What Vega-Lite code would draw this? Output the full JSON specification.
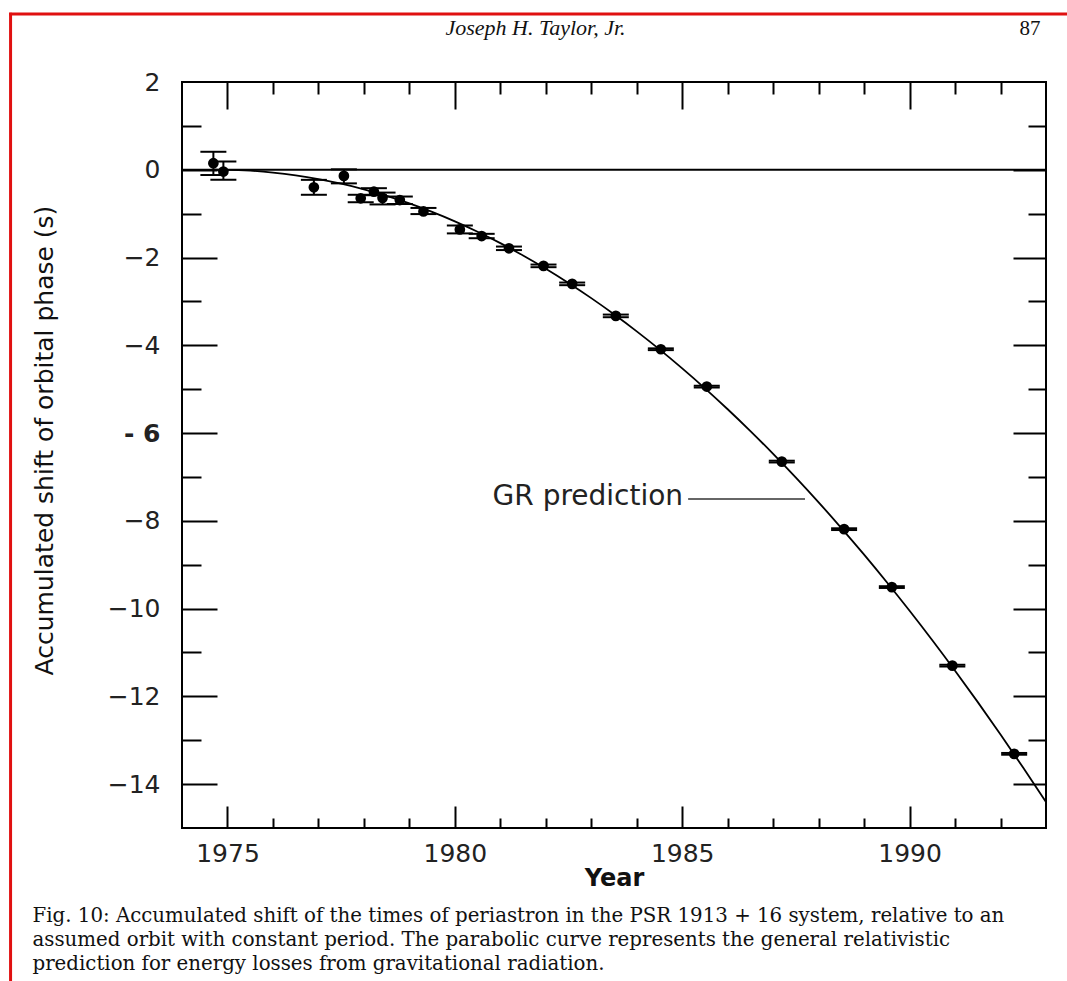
{
  "$schema": "https://vega.github.io/schema/vega-lite/v6.json",
  "autosize": {"type": "none"},
  "width": 864,
  "height": 746,
  "padding": {"left": 182, "top": 82, "right": 21, "bottom": 153},
  "background": "white",
  "config": {
    "view": {"stroke": "black", "strokeWidth": 2},
    "axis": {
      "domain": false,
      "grid": false,
      "tickColor": "black",
      "tickWidth": 2,
      "labelColor": "#222",
      "titleColor": "#111"
    }
  },
  "datasets": {
    "obs": [
      {"year": 1974.69, "shift": 0.15, "lo": -0.12, "hi": 0.41},
      {"year": 1974.91, "shift": -0.04, "lo": -0.23, "hi": 0.19},
      {"year": 1976.90, "shift": -0.40, "lo": -0.57, "hi": -0.23},
      {"year": 1977.56, "shift": -0.14, "lo": -0.31, "hi": 0.01},
      {"year": 1977.93, "shift": -0.65, "lo": -0.74, "hi": -0.57},
      {"year": 1978.22, "shift": -0.50, "lo": -0.58, "hi": -0.42},
      {"year": 1978.41, "shift": -0.64, "lo": -0.79, "hi": -0.52},
      {"year": 1978.79, "shift": -0.69, "lo": -0.78, "hi": -0.61},
      {"year": 1979.31, "shift": -0.95, "lo": -1.01, "hi": -0.87},
      {"year": 1980.11, "shift": -1.36, "lo": -1.45, "hi": -1.27},
      {"year": 1980.59, "shift": -1.51, "lo": -1.56, "hi": -1.46},
      {"year": 1981.19, "shift": -1.79, "lo": -1.83, "hi": -1.75},
      {"year": 1981.95, "shift": -2.19, "lo": -2.22, "hi": -2.16},
      {"year": 1982.58, "shift": -2.60, "lo": -2.63, "hi": -2.57},
      {"year": 1983.54, "shift": -3.33, "lo": -3.36, "hi": -3.30},
      {"year": 1984.53, "shift": -4.09, "lo": -4.11, "hi": -4.07},
      {"year": 1985.54, "shift": -4.94, "lo": -4.96, "hi": -4.92},
      {"year": 1987.19, "shift": -6.65, "lo": -6.67, "hi": -6.63},
      {"year": 1988.56, "shift": -8.19, "lo": -8.21, "hi": -8.17},
      {"year": 1989.61, "shift": -9.51, "lo": -9.53, "hi": -9.49},
      {"year": 1990.94, "shift": -11.30, "lo": -11.32, "hi": -11.28},
      {"year": 1992.30, "shift": -13.31, "lo": -13.33, "hi": -13.29}
    ],
    "gr": [
      {"year": 1974.7, "shift": 0},
      {"year": 1975.0, "shift": -0.002},
      {"year": 1975.5, "shift": -0.021},
      {"year": 1976.0, "shift": -0.063},
      {"year": 1976.5, "shift": -0.126},
      {"year": 1977.0, "shift": -0.211},
      {"year": 1977.5, "shift": -0.317},
      {"year": 1978.0, "shift": -0.445},
      {"year": 1978.5, "shift": -0.596},
      {"year": 1979.0, "shift": -0.767},
      {"year": 1979.5, "shift": -0.961},
      {"year": 1980.0, "shift": -1.176},
      {"year": 1980.5, "shift": -1.413},
      {"year": 1981.0, "shift": -1.672},
      {"year": 1981.5, "shift": -1.953},
      {"year": 1982.0, "shift": -2.255},
      {"year": 1982.5, "shift": -2.579},
      {"year": 1983.0, "shift": -2.925},
      {"year": 1983.5, "shift": -3.293},
      {"year": 1984.0, "shift": -3.682},
      {"year": 1984.5, "shift": -4.093},
      {"year": 1985.0, "shift": -4.526},
      {"year": 1985.5, "shift": -4.980},
      {"year": 1986.0, "shift": -5.457},
      {"year": 1986.5, "shift": -5.955},
      {"year": 1987.0, "shift": -6.475},
      {"year": 1987.5, "shift": -7.016},
      {"year": 1988.0, "shift": -7.579},
      {"year": 1988.5, "shift": -8.165},
      {"year": 1989.0, "shift": -8.771},
      {"year": 1989.5, "shift": -9.400},
      {"year": 1990.0, "shift": -10.050},
      {"year": 1990.5, "shift": -10.722},
      {"year": 1991.0, "shift": -11.416},
      {"year": 1991.5, "shift": -12.132},
      {"year": 1992.0, "shift": -12.869},
      {"year": 1992.5, "shift": -13.628},
      {"year": 1993.0, "shift": -14.409}
    ]
  },
  "resolve": {"axis": {"x": "independent", "y": "independent"}},
  "layer": [
    {
      "data": {"values": [{}]},
      "mark": {"type": "rule", "color": "black", "strokeWidth": 2},
      "encoding": {
        "y": {"datum": 0, "type": "quantitative", "scale": {"domain": [-15, 2], "nice": false, "zero": false}, "axis": null}
      }
    },
    {
      "data": {"name": "gr"},
      "mark": {"type": "line", "color": "black", "strokeWidth": 1.8, "interpolate": "monotone"},
      "encoding": {
        "x": {
          "field": "year", "type": "quantitative",
          "scale": {"domain": [1974, 1993], "nice": false, "zero": false},
          "axis": {
            "orient": "bottom", "values": [1975, 1980, 1985, 1990], "format": "d",
            "ticks": false, "labelFont": "DejaVu Sans", "labelFontSize": 25, "labelPadding": 13,
            "title": "Year", "titleFont": "DejaVu Sans", "titleFontSize": 24, "titleFontWeight": "bold",
            "titleX": 432, "titleY": 57, "titleBaseline": "alphabetic", "titleAlign": "center"
          }
        },
        "y": {
          "field": "shift", "type": "quantitative",
          "scale": {"domain": [-15, 2], "nice": false, "zero": false},
          "axis": {
            "orient": "left", "values": [-14, -12, -10, -8, -6, -4, -2, 0, 2],
            "ticks": false, "labelFont": "DejaVu Sans", "labelFontSize": 25, "labelPadding": 22,
            "labelExpr": "datum.value === -6 ? '-  6' : (datum.value < 0 ? '\u2212' + abs(datum.value) : '' + datum.value)",
            "labelFontWeight": {"condition": {"test": "datum.value === -6", "value": "bold"}, "value": "normal"},
            "title": "Accumulated shift of orbital phase (s)", "titleFont": "DejaVu Sans", "titleFontSize": 25,
            "titleFontWeight": "normal", "titleX": -138, "titleY": 358, "titleAngle": -90,
            "titleBaseline": "middle", "titleAlign": "center"
          }
        }
      }
    },
    {
      "data": {"name": "obs"},
      "mark": {"type": "rule", "color": "black", "strokeWidth": 2},
      "encoding": {
        "x": {
          "field": "year", "type": "quantitative",
          "scale": {"domain": [1974, 1993], "nice": false, "zero": false},
          "axis": {"orient": "bottom", "values": [1975, 1980, 1985, 1990], "labels": false, "tickSize": -22, "title": null}
        },
        "y": {
          "field": "lo", "type": "quantitative",
          "scale": {"domain": [-15, 2], "nice": false, "zero": false},
          "axis": {"orient": "left", "values": [-14, -12, -10, -8, -6, -4, -2, 0], "labels": false, "tickSize": -35, "title": null}
        },
        "y2": {"field": "hi"}
      }
    },
    {
      "data": {"name": "obs"},
      "mark": {"type": "tick", "orient": "horizontal", "color": "black", "opacity": 1, "size": 26, "thickness": 2},
      "encoding": {
        "x": {
          "field": "year", "type": "quantitative",
          "scale": {"domain": [1974, 1993], "nice": false, "zero": false},
          "axis": {"orient": "bottom", "values": [1976, 1977, 1978, 1979, 1981, 1982, 1983, 1984, 1986, 1987, 1988, 1989, 1991, 1992], "labels": false, "tickSize": -10, "title": null}
        },
        "y": {
          "field": "hi", "type": "quantitative",
          "scale": {"domain": [-15, 2], "nice": false, "zero": false},
          "axis": {"orient": "left", "values": [-13, -11, -9, -7, -5, -3, -1, 1], "labels": false, "tickSize": -19, "title": null}
        }
      }
    },
    {
      "data": {"name": "obs"},
      "mark": {"type": "tick", "orient": "horizontal", "color": "black", "opacity": 1, "size": 26, "thickness": 2},
      "encoding": {
        "x": {
          "field": "year", "type": "quantitative",
          "scale": {"domain": [1974, 1993], "nice": false, "zero": false},
          "axis": {
            "orient": "top", "values": [1975, 1980, 1985, 1990], "labels": false, "tickSize": -27,
            "title": "Joseph H. Taylor, Jr.", "titleFont": "Liberation Serif", "titleFontStyle": "italic",
            "titleFontWeight": "normal", "titleFontSize": 22, "titleX": 353, "titleY": -48,
            "titleAlign": "center", "titleBaseline": "alphabetic"
          }
        },
        "y": {
          "field": "lo", "type": "quantitative",
          "scale": {"domain": [-15, 2], "nice": false, "zero": false},
          "axis": {"orient": "right", "values": [-14, -12, -10, -8, -6, -4, -2, 0], "labels": false, "tickSize": -33, "title": null}
        }
      }
    },
    {
      "data": {"name": "obs"},
      "mark": {"type": "circle", "color": "black", "size": 115, "opacity": 1},
      "encoding": {
        "x": {
          "field": "year", "type": "quantitative",
          "scale": {"domain": [1974, 1993], "nice": false, "zero": false},
          "axis": {
            "orient": "top", "values": [1976, 1977, 1978, 1979, 1981, 1982, 1983, 1984, 1986, 1987, 1988, 1989, 1991, 1992],
            "labels": false, "tickSize": -12,
            "title": "87", "titleFont": "Liberation Serif", "titleFontWeight": "normal", "titleFontSize": 21,
            "titleX": 858, "titleY": -48, "titleAlign": "right", "titleBaseline": "alphabetic"
          }
        },
        "y": {
          "field": "shift", "type": "quantitative",
          "scale": {"domain": [-15, 2], "nice": false, "zero": false},
          "axis": {"orient": "right", "values": [-13, -11, -9, -7, -5, -3, -1, 1], "labels": false, "tickSize": -18, "title": null}
        }
      }
    },
    {
      "data": {"values": [{}]},
      "mark": {"type": "text", "text": "GR prediction", "align": "right", "baseline": "middle", "font": "DejaVu Sans", "fontSize": 28, "color": "#222", "clip": false},
      "encoding": {
        "x": {"datum": 1985.02, "type": "quantitative", "scale": {"domain": [1974, 1993], "nice": false, "zero": false}, "axis": null},
        "y": {"datum": -7.45, "type": "quantitative", "scale": {"domain": [-15, 2], "nice": false, "zero": false}, "axis": null}
      }
    },
    {
      "data": {"values": [{}]},
      "mark": {"type": "rule", "color": "#333", "strokeWidth": 1.5, "clip": false},
      "encoding": {
        "x": {
          "datum": 1985.13, "type": "quantitative", "scale": {"domain": [1974, 1993], "nice": false, "zero": false},
          "axis": {
            "orient": "bottom", "ticks": false, "labels": false, "values": [],
            "title": [
              "Fig. 10: Accumulated shift of the times of periastron in the PSR 1913 + 16 system, relative to an",
              "assumed orbit with constant period. The parabolic curve represents the general relativistic",
              "prediction for energy losses from gravitational radiation."
            ],
            "titleFont": "DejaVu Serif", "titleFontSize": 19.8, "titleFontWeight": "normal", "titleLineHeight": 24,
            "titleX": -150, "titleY": 93, "titleAlign": "left", "titleAnchor": "start", "titleBaseline": "alphabetic", "titleColor": "#111"
          }
        },
        "x2": {"datum": 1987.7},
        "y": {"datum": -7.5, "type": "quantitative", "scale": {"domain": [-15, 2], "nice": false, "zero": false}, "axis": null}
      }
    },
    {
      "data": {"values": [{}]},
      "mark": {"type": "rule", "color": "#e01010", "strokeWidth": 3, "clip": false},
      "encoding": {
        "x": {"datum": 1970.23, "type": "quantitative", "scale": {"domain": [1974, 1993], "nice": false, "zero": false}, "axis": null},
        "y": {"datum": 3.58, "type": "quantitative", "scale": {"domain": [-15, 2], "nice": false, "zero": false}, "axis": null},
        "y2": {"datum": -19}
      }
    },
    {
      "data": {"values": [{}]},
      "mark": {"type": "rule", "color": "#e01010", "strokeWidth": 3, "clip": false},
      "encoding": {
        "x": {"datum": 1970.2, "type": "quantitative", "scale": {"domain": [1974, 1993], "nice": false, "zero": false}, "axis": null},
        "x2": {"datum": 1994},
        "y": {"datum": 3.55, "type": "quantitative", "scale": {"domain": [-15, 2], "nice": false, "zero": false}, "axis": null}
      }
    }
  ]
}
